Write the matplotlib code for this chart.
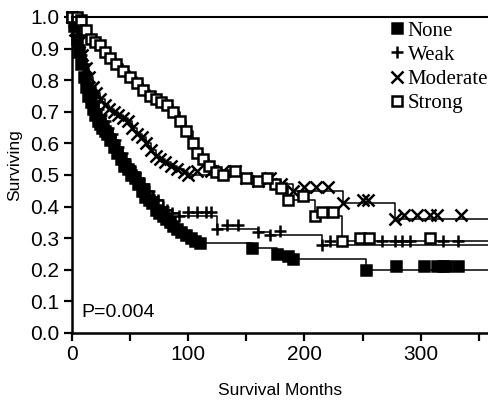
import matplotlib
matplotlib.use("Agg")
import matplotlib.pyplot as plt
import numpy as np

# survival curves (months, surviving fraction)
none_t = [0, 2, 4, 6, 8, 10, 12, 14, 16, 18, 20, 22, 24, 26, 28, 30, 33, 36, 39, 42, 45, 48,
          51, 54, 57, 60, 63, 66, 69, 72, 75, 78, 81, 84, 87, 90, 94, 98, 102, 106, 110,
          155, 176, 186, 190, 253]
none_s = [1.0, 0.97, 0.93, 0.89, 0.85, 0.81, 0.78, 0.75, 0.73, 0.71, 0.69, 0.67, 0.66, 0.65,
          0.64, 0.63, 0.61, 0.59, 0.57, 0.55, 0.53, 0.52, 0.50, 0.49, 0.47, 0.45, 0.43, 0.42,
          0.41, 0.39, 0.38, 0.37, 0.36, 0.35, 0.34, 0.33, 0.32, 0.31, 0.30, 0.29, 0.285,
          0.27, 0.25, 0.245, 0.235, 0.20]
none_cens = [279, 303, 314, 319, 322, 332]

weak_t = [0, 2, 4, 6, 8, 10, 12, 14, 16, 18, 20, 22, 25, 28, 31, 34, 37, 40, 43, 46, 50, 54,
          58, 62, 66, 70, 74, 78, 82, 86, 92, 125, 160, 170, 215]
weak_s = [1.0, 0.97, 0.94, 0.91, 0.88, 0.85, 0.82, 0.79, 0.77, 0.75, 0.73, 0.71, 0.69, 0.67,
          0.65, 0.63, 0.61, 0.59, 0.57, 0.55, 0.53, 0.51, 0.49, 0.47, 0.45, 0.43, 0.42, 0.40,
          0.39, 0.38, 0.37, 0.33, 0.32, 0.31, 0.28]
weak_cens = [100, 108, 115, 120, 133, 143, 179, 222, 267, 278, 284, 291, 319, 332]

mod_t = [0, 3, 6, 9, 12, 15, 18, 21, 24, 28, 32, 36, 40, 44, 48, 52, 56, 60, 64, 68, 72, 76,
         80, 85, 90, 96, 100, 150, 160, 180, 190, 233, 278]
mod_s = [1.0, 0.96, 0.92, 0.88, 0.84, 0.81, 0.78, 0.76, 0.74, 0.72, 0.71, 0.70, 0.69, 0.68,
         0.67, 0.65, 0.63, 0.62, 0.60, 0.58, 0.56, 0.55, 0.54, 0.53, 0.52, 0.51, 0.50, 0.49,
         0.48, 0.47, 0.45, 0.41, 0.36]
mod_cens = [108, 120, 130, 140, 170, 200, 210, 220, 250, 255, 286, 297, 308, 314, 335]

strong_t = [0, 4, 8, 12, 16, 20, 24, 28, 33, 38, 44, 50, 56, 61, 67, 72, 77, 82, 87, 93, 98,
            104, 108, 113, 118, 124, 130, 150, 160, 175, 180, 186, 209, 232]
strong_s = [1.0, 1.0, 0.99, 0.96, 0.93, 0.92, 0.91, 0.89, 0.87, 0.85, 0.83, 0.81, 0.79, 0.77,
            0.75, 0.74, 0.73, 0.72, 0.70, 0.67, 0.64, 0.60, 0.57, 0.55, 0.53, 0.51, 0.50,
            0.49, 0.48, 0.47, 0.46, 0.42, 0.37, 0.29]
strong_cens = [140, 168, 199, 215, 225, 248, 256, 308]

t_end = 358

fig = plt.figure(figsize=(4.88, 4.05), dpi=100)
ax = fig.add_axes([72 / 488, 1 - 333 / 405, 1 - 72 / 488, 316 / 405])


def km(t, s, cens, marker, fill, label, ms):
    tt = list(t) + [t_end]
    ss = list(s) + [s[-1]]
    ax.step(tt, ss, where="post", color="black", lw=1.1, clip_on=False)
    # marker at every event
    ax.plot(t, s, ls="none", marker=marker, ms=ms, mew=1.8, mec="black",
            mfc=fill, clip_on=False, label=label)
    # censored marks sit on the step curve
    cs = [ss[np.searchsorted(tt, c, side="right") - 1] for c in cens]
    ax.plot(cens, np.array(cs) + 0.012, ls="none", marker=marker, ms=ms, mew=1.8,
            mec="black", mfc=fill, clip_on=False)


km(none_t, none_s, none_cens, "s", "black", "None", 7.5)
km(weak_t, weak_s, weak_cens, "+", "none", "Weak", 9)
km(mod_t, mod_s, mod_cens, "x", "none", "Moderate", 8.5)
km(strong_t, strong_s, strong_cens, "s", "white", "Strong", 7.5)

ax.set_xlim(0, t_end)
ax.set_ylim(0, 1.0)
ax.spines["right"].set_visible(False)
ax.spines["left"].set_linewidth(1.8)
ax.spines["bottom"].set_linewidth(1.8)
ax.spines["top"].set_linewidth(1.5)

sans = "Liberation Sans"
tickfont = {"family": sans, "size": 15}
ax.set_xticks([0, 50, 100, 150, 200, 250, 300, 350])
ax.set_xticklabels(["0", "", "100", "", "200", "", "300", ""], fontdict=tickfont)
ax.set_yticks(np.arange(0, 1.01, 0.1))
ax.set_yticklabels(["%.1f" % v for v in np.arange(0, 1.01, 0.1)], fontdict=tickfont)
ax.tick_params(length=6, width=1.6, pad=3)

ax.set_xlabel("Survival Months", family=sans, size=12.5, labelpad=13)
ax.set_ylabel("Surviving", family=sans, size=12.5)
ax.yaxis.set_label_coords(-0.12, 0.53)
ax.text(8, 0.065, "P=0.004", family=sans, size=14, ha="left", va="center")

leg = fig.legend(loc="upper left", bbox_to_anchor=(390 / 488, 1 - 21 / 405), frameon=False,
                 prop={"family": "Liberation Serif", "size": 15}, handlelength=0.7,
                 handletextpad=0.15, labelspacing=0.22, borderpad=0, borderaxespad=0)

fig.savefig("out.png", dpi=100)
